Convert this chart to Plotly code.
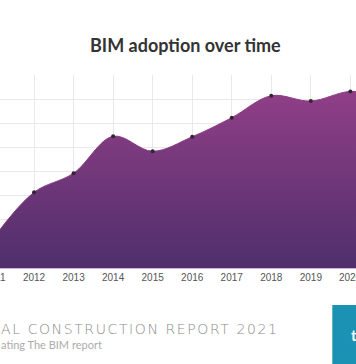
import plotly.graph_objects as go

years = [2011, 2012, 2013, 2014, 2015, 2016, 2017, 2018, 2019, 2020, 2021]
adoption = [13, 31.4, 39.3, 54.6, 48.4, 54.4, 62.3, 71.4, 69.2, 73.2, 71]
tick_years = [2012, 2013, 2014, 2015, 2016, 2017, 2018, 2019]
tick_labels = [str(y) for y in tick_years]
edge_years = [2011, 2020]
grid_years = [2012, 2013, 2014, 2015, 2016, 2017, 2018, 2019, 2020]

title_text = "BIM adoption over time"
footer_title = "AL CONSTRUCTION REPORT 2021"
footer_sub = "ating The BIM report"
button_text = "t"

W, H = 356, 364
top, bottom = 75, 268
ph = bottom - top
x0 = 2011 + 5.5 / 39.54
x1 = 2011 + (356 + 5.5) / 39.54

def py(Y):
    return (bottom - Y) / ph

def px(year):
    return (year - x0) / (x1 - x0)

fig = go.Figure()
fig.add_trace(go.Scatter(
    x=years, y=adoption, mode="lines+markers",
    line=dict(shape="spline", smoothing=1.0, color="#8c3d83", width=1),
    marker=dict(size=4, color="#2e2535"),
    fill="tozeroy",
    fillgradient=dict(type="vertical",
                      colorscale=[[0, "#4f2f6c"], [1, "#923f87"]],
                      start=0, stop=75),
    hoverinfo="skip", showlegend=False,
))

fig.update_layout(
    width=W, height=H,
    margin=dict(l=0, r=0, t=top, b=H - bottom, pad=0),
    paper_bgcolor="white", plot_bgcolor="white",
    xaxis=dict(range=[x0, x1], tickvals=grid_years,
               ticktext=tick_labels + [""],
               showgrid=True, gridcolor="#e9e9e9", gridwidth=1,
               zeroline=False, showline=True, linecolor="#cdb3dc", linewidth=1,
               ticks="",
               tickfont=dict(family="Liberation Sans, Arial", size=10, color="#555555"),
               fixedrange=True),
    yaxis=dict(range=[0, 80], dtick=10, showgrid=True, gridcolor="#e9e9e9", gridwidth=1,
               zeroline=False, showticklabels=False, ticks="", fixedrange=True),
    font=dict(family="Lato, Liberation Sans, sans-serif"),
)

annotations = [
    dict(text=title_text, xref="paper", yref="paper", x=185.5 / W, y=py(45),
         xanchor="center", yanchor="middle", showarrow=False,
         font=dict(family="Lato", size=18, color="#333333", weight=700)),
    dict(text='<span style="letter-spacing:1.6px">' + footer_title + '</span>',
         xref="paper", yref="paper", x=-1 / W, y=py(329),
         xanchor="left", yanchor="middle", showarrow=False,
         font=dict(family="DejaVu Sans", size=14, color="#8a8a8a", weight=300)),
    dict(text=footer_sub, xref="paper", yref="paper", x=-1 / W, y=py(344),
         xanchor="left", yanchor="middle", showarrow=False,
         font=dict(family="Lato", size=11, color="#ababab")),
    dict(text=button_text, xref="paper", yref="paper", x=349 / W, y=py(335),
         xanchor="left", yanchor="middle", showarrow=False,
         font=dict(family="Lato", size=15, color="white", weight=700)),
]
for yr in edge_years:
    annotations.append(dict(
        text=str(yr), xref="paper", yref="paper", x=px(yr), y=py(277),
        xanchor="center", yanchor="middle", showarrow=False,
        font=dict(family="Liberation Sans, Arial", size=10, color="#555555")))
fig.update_layout(annotations=annotations)

fig.add_shape(type="rect", xref="paper", yref="paper",
              x0=332.3 / W, x1=1.1, y0=py(305), y1=py(372),
              fillcolor="#1b92b4", line=dict(width=0), layer="above")

fig.write_html(
    "out.html",
    config={"displayModeBar": False},
    post_script="document.documentElement.style.overflow='hidden';document.body.style.margin='0';document.body.style.overflow='hidden';",
)
